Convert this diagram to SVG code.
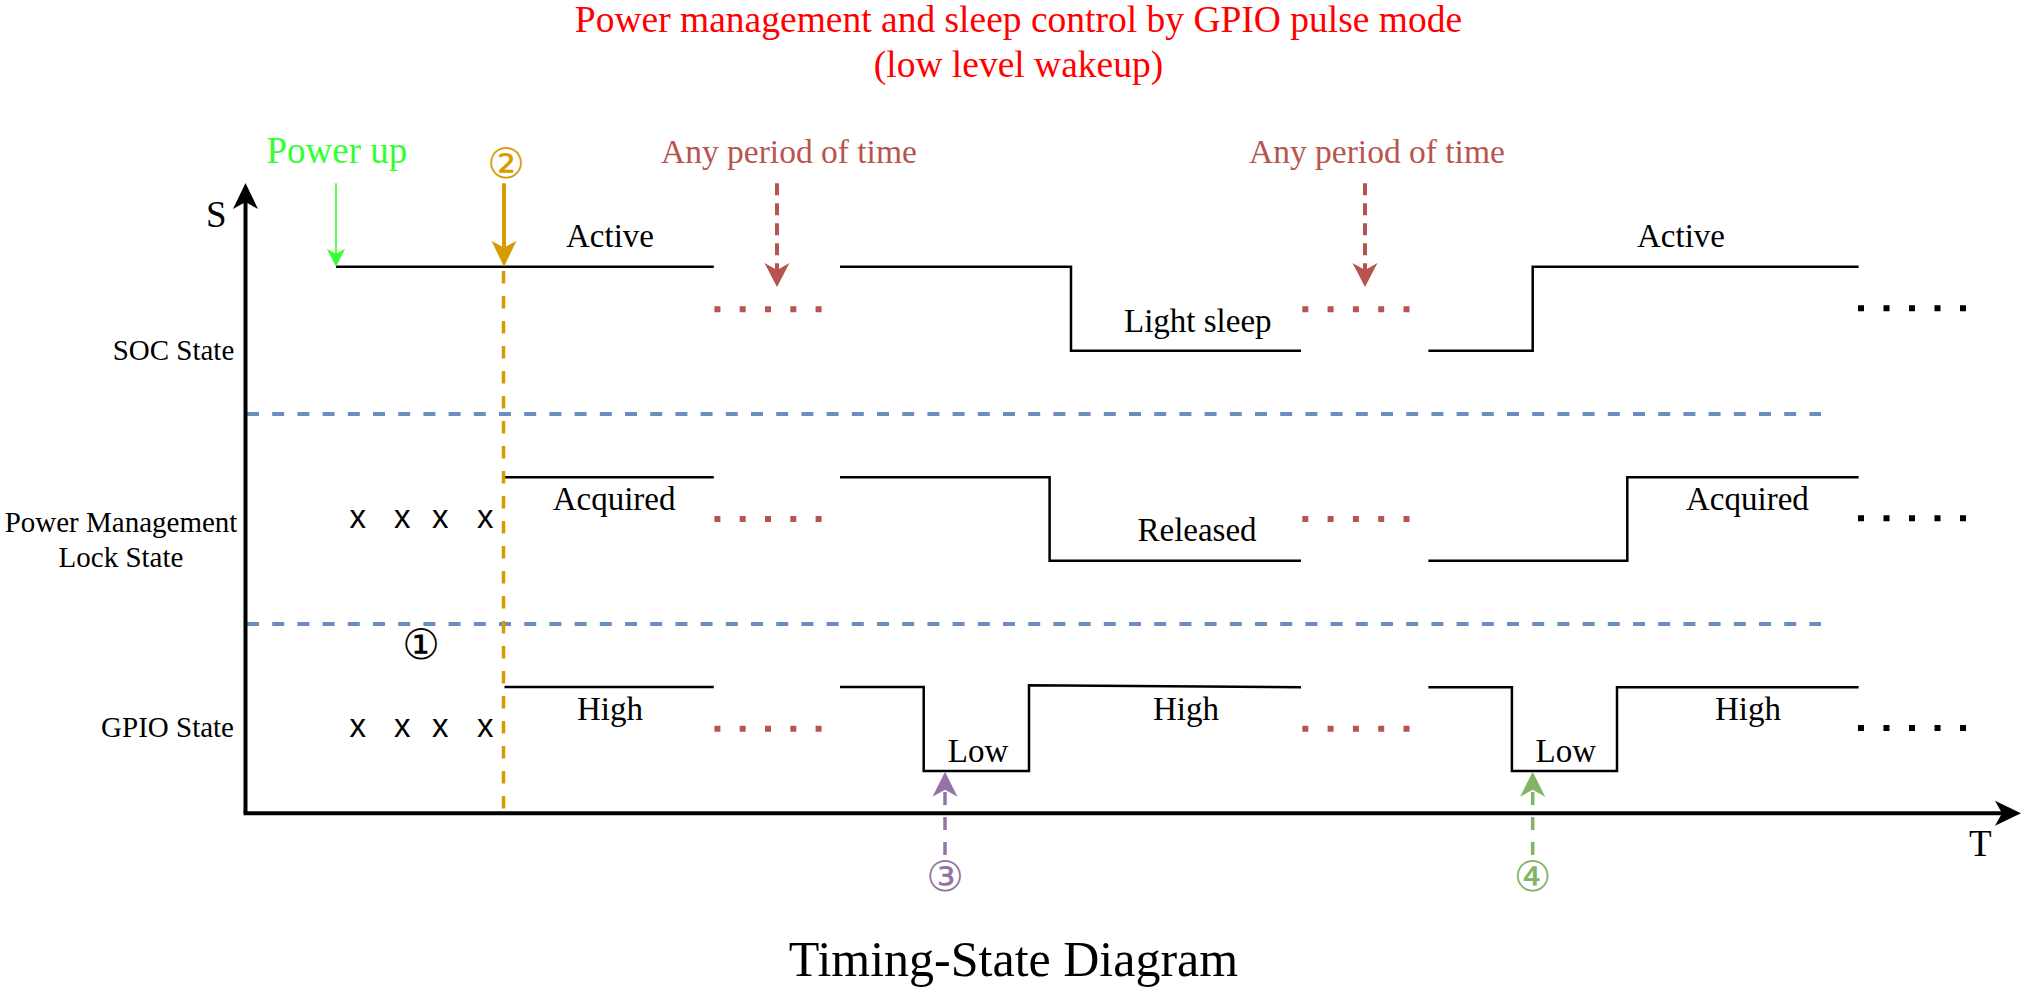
<svg xmlns="http://www.w3.org/2000/svg" width="2027" height="992" viewBox="0 0 2027 992">
<style>
  text { font-family: "Liberation Serif", "Times New Roman", serif; }
  .lbl { font-size: 33px; fill: #000; }
  .row { font-size: 29px; fill: #000; }
  .sig { fill: none; stroke: #000; stroke-width: 2.5; }
  .dotR { fill: none; stroke: #b85450; stroke-width: 6; stroke-dasharray: 6 19.3; }
  .dotK { fill: none; stroke: #000; stroke-width: 6; stroke-dasharray: 6 19.5; }
  .sep { fill: none; stroke: #6c8ebf; stroke-width: 4; stroke-dasharray: 12 13.2; }
  .xm { font-family: "Liberation Sans", Arial, sans-serif; font-size: 33px; fill: #000; }
  .num { font-family: "DejaVu Sans", sans-serif; font-size: 42px; text-anchor: middle; dominant-baseline: central; }
</style>
<defs>
  <marker id="ahRed" markerUnits="userSpaceOnUse" viewBox="-10 -15 30 30" markerWidth="30" markerHeight="30" refX="0" refY="0" orient="auto">
    <path d="M17,0 L-7,-12.5 L0,0 L-7,12.5 Z" fill="#b85450"/>
  </marker>
  <marker id="ahGreen" markerUnits="userSpaceOnUse" viewBox="-10 -15 30 30" markerWidth="30" markerHeight="30" refX="0" refY="0" orient="auto">
    <path d="M13,0 L-5,-9.2 L0,0 L-5,9.2 Z" fill="#33ff33"/>
  </marker>
  <marker id="ahOrange" markerUnits="userSpaceOnUse" viewBox="-10 -15 30 30" markerWidth="30" markerHeight="30" refX="0" refY="0" orient="auto">
    <path d="M19,0 L-7,-12.5 L0,0 L-7,12.5 Z" fill="#d79b00"/>
  </marker>
  <marker id="ahPurple" markerUnits="userSpaceOnUse" viewBox="-10 -15 30 30" markerWidth="30" markerHeight="30" refX="0" refY="0" orient="auto">
    <path d="M18,0 L-7,-12.5 L0,0 L-7,12.5 Z" fill="#9673a6"/>
  </marker>
  <marker id="ahGreen2" markerUnits="userSpaceOnUse" viewBox="-10 -15 30 30" markerWidth="30" markerHeight="30" refX="0" refY="0" orient="auto">
    <path d="M18,0 L-7,-12.5 L0,0 L-7,12.5 Z" fill="#82b366"/>
  </marker>
  <marker id="ahBlack" markerUnits="userSpaceOnUse" viewBox="-10 -15 30 30" markerWidth="30" markerHeight="30" refX="0" refY="0" orient="auto">
    <path d="M19,0 L-7,-12.5 L0,0 L-7,12.5 Z" fill="#000"/>
  </marker>
</defs>
<rect width="2027" height="992" fill="#fff"/>

<g id="title">
  <text x="1018.5" y="31.7" font-size="37.5" fill="#ff0000" text-anchor="middle">Power management and sleep control by GPIO pulse mode</text>
  <text x="1018.5" y="77" font-size="37.5" fill="#ff0000" text-anchor="middle">(low level wakeup)</text>
</g>

<g id="row-labels">
  <text class="row" x="234.3" y="360" text-anchor="end">SOC State</text>
  <text class="row" x="121" y="531.7" text-anchor="middle">Power Management</text>
  <text class="row" x="121" y="566.7" text-anchor="middle">Lock State</text>
  <text class="row" x="234" y="737.3" text-anchor="end">GPIO State</text>
</g>

<g id="separators">
  <line class="sep" x1="247" y1="414" x2="1821" y2="414"/>
  <line class="sep" x1="247" y1="624" x2="1821" y2="624"/>
</g>

<g id="axes">
  <line x1="245.5" y1="813" x2="245.5" y2="202" stroke="#000" stroke-width="4" marker-end="url(#ahBlack)"/>
  <line x1="243.5" y1="813.3" x2="2002" y2="813.3" stroke="#000" stroke-width="4" marker-end="url(#ahBlack)"/>
  <text x="206" y="227" font-size="37">S</text>
  <text x="1969" y="856" font-size="37">T</text>
</g>

<g id="soc-state">
  <path class="sig" d="M336,266.7 H713.8"/>
  <path class="sig" d="M840,266.7 H1071 V350.7 H1301"/>
  <path class="sig" d="M1428.4,350.7 H1532.7 V266.7 H1858.6"/>
  <line class="dotR" x1="714.4" y1="309.3" x2="822" y2="309.3"/>
  <line class="dotR" x1="1302.3" y1="309.3" x2="1410" y2="309.3"/>
  <line class="dotK" x1="1858" y1="308.3" x2="1967" y2="308.3"/>
  <text class="lbl" x="566" y="246.7">Active</text>
  <text class="lbl" x="1124" y="331.7">Light sleep</text>
  <text class="lbl" x="1637" y="246.7">Active</text>
</g>

<g id="pm-lock-state">
  <path class="sig" d="M504.5,477.3 H713.8"/>
  <path class="sig" d="M840,477.3 H1049.6 V560.7 H1301"/>
  <path class="sig" d="M1428.4,560.7 H1627.3 V477.3 H1858.6"/>
  <line class="dotR" x1="714.4" y1="519" x2="822" y2="519"/>
  <line class="dotR" x1="1302.3" y1="519" x2="1410" y2="519"/>
  <line class="dotK" x1="1858" y1="518.3" x2="1967" y2="518.3"/>
  <text class="xm" x="349.5" y="527.7">x</text>
  <text class="xm" x="394" y="527.7">x</text>
  <text class="xm" x="432" y="527.7">x</text>
  <text class="xm" x="477" y="527.7">x</text>
  <text class="lbl" x="552.7" y="510">Acquired</text>
  <text class="lbl" x="1137.5" y="540.7">Released</text>
  <text class="lbl" x="1686" y="510">Acquired</text>
</g>

<g id="gpio-state">
  <path class="sig" d="M504.5,687 H713.8"/>
  <path class="sig" d="M840,687 H923.7 V771 H1029 V685.3 L1301,687.3"/>
  <path class="sig" d="M1428.4,687.3 H1511.9 V771 H1617 V687.3 H1858.6"/>
  <line class="dotR" x1="714.4" y1="728.7" x2="822" y2="728.7"/>
  <line class="dotR" x1="1302.3" y1="728.7" x2="1410" y2="728.7"/>
  <line class="dotK" x1="1858" y1="728" x2="1967" y2="728"/>
  <text class="xm" x="349.5" y="737.3">x</text>
  <text class="xm" x="394" y="737.3">x</text>
  <text class="xm" x="432" y="737.3">x</text>
  <text class="xm" x="477" y="737.3">x</text>
  <text class="lbl" x="577" y="720">High</text>
  <text class="lbl" x="947.8" y="762.3">Low</text>
  <text class="lbl" x="1153" y="720">High</text>
  <text class="lbl" x="1535.5" y="762.3">Low</text>
  <text class="lbl" x="1715" y="720">High</text>
</g>

<g id="annotations">
  <text x="266.5" y="163.3" font-size="37" fill="#33ff33">Power up</text>
  <text class="num" x="506" y="163" fill="#d79b00">②</text>
  <text x="661" y="163.3" font-size="33.5" fill="#b85450">Any period of time</text>
  <text x="1249" y="163.3" font-size="33.5" fill="#b85450">Any period of time</text>
  <text class="num" x="421" y="644.5" fill="#000">①</text>
  <text class="num" x="945" y="876" fill="#9673a6">③</text>
  <text class="num" x="1532.7" y="876" fill="#82b366">④</text>
</g>

<g id="connectors">
  <line x1="336" y1="183.3" x2="336" y2="253.7" stroke="#33ff33" stroke-width="1.6" marker-end="url(#ahGreen)"/>
  <line x1="504" y1="183.3" x2="504" y2="247.7" stroke="#d79b00" stroke-width="4" marker-end="url(#ahOrange)"/>
  <line x1="503.5" y1="271" x2="503.5" y2="813" stroke="#d79b00" stroke-width="3.5" stroke-dasharray="12.5 12.5"/>
  <line x1="777" y1="183.3" x2="777" y2="270" stroke="#b85450" stroke-width="4" stroke-dasharray="12 8" marker-end="url(#ahRed)"/>
  <line x1="1365" y1="183.3" x2="1365" y2="270" stroke="#b85450" stroke-width="4" stroke-dasharray="12 8" marker-end="url(#ahRed)"/>
  <line x1="945" y1="855" x2="945" y2="789.7" stroke="#9673a6" stroke-width="3.5" stroke-dasharray="13 12" marker-end="url(#ahPurple)"/>
  <line x1="1532.7" y1="855" x2="1532.7" y2="789.7" stroke="#82b366" stroke-width="3.5" stroke-dasharray="13 12" marker-end="url(#ahGreen2)"/>
</g>

<g id="caption">
  <text x="1013.4" y="976" font-size="50" text-anchor="middle">Timing-State Diagram</text>
</g>
</svg>
